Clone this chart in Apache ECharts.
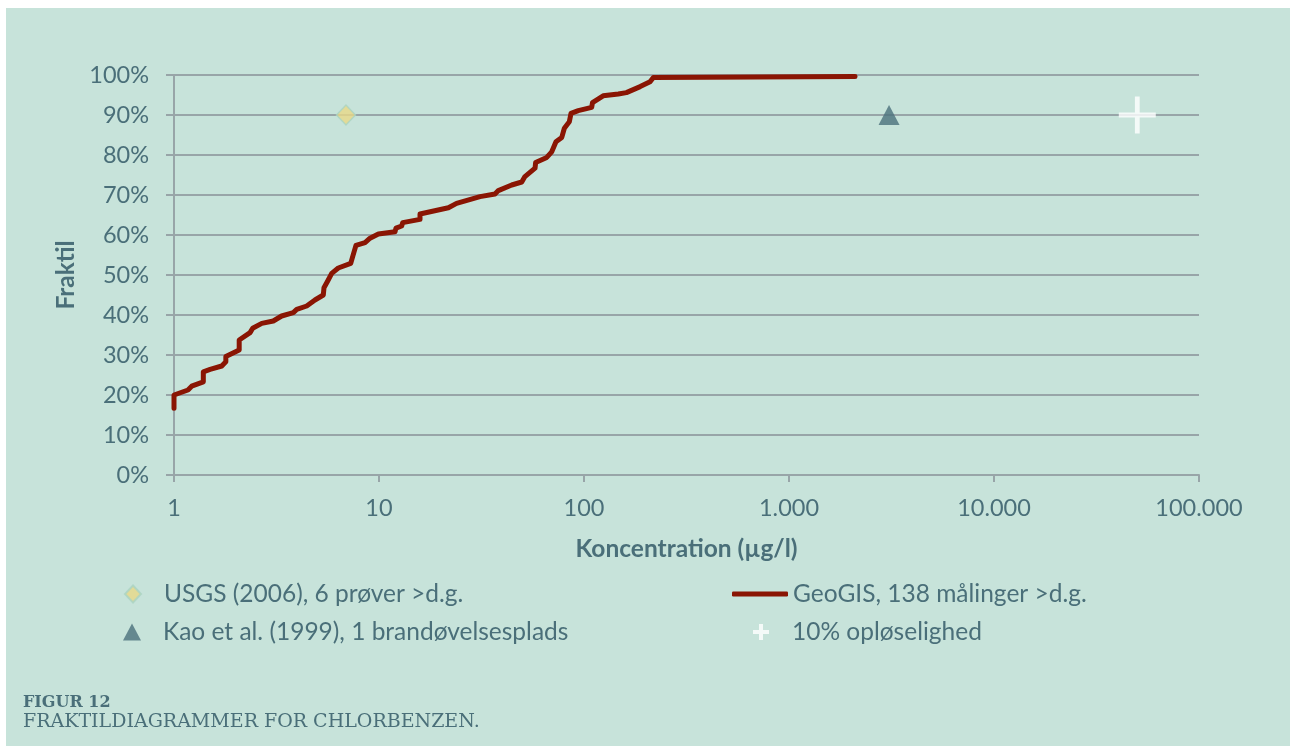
<!DOCTYPE html>
<html>
<head>
<meta charset="utf-8">
<script src="https://cdn.jsdelivr.net/npm/echarts@6/dist/echarts.min.js"></script>
<style>
  html, body { margin: 0; padding: 0; background: #ffffff; }
  #chart { position: absolute; left: 6px; top: 8px; width: 1284px; height: 738px; }
</style>
</head>
<body>
<div id="chart"></div>
<script>
// GeoGIS fractile curve (concentration in µg/l, fractile in %)
var geoConc = [1, 1, 1.17, 1.22, 1.39, 1.39, 1.5, 1.71, 1.79, 1.79, 2.08, 2.08, 2.35, 2.42, 2.68, 3.05,
  3.35, 3.82, 3.97, 4.44, 4.87, 5.35, 5.39, 5.62, 5.88, 6.33, 7.28, 7.44, 7.72, 8.55, 9.04, 9.93,
  11.97, 12.1, 12.9, 13.05, 15.85, 15.85, 21.8, 23.9, 31.1, 36.8, 38.2, 44.4, 49.7, 51.5, 57.7, 58.1,
  65.8, 69.6, 73, 77.9, 80.2, 84.8, 86.4, 93.8, 109, 110, 124, 147, 161, 188, 210, 218, 2100];
var geoFrac = [16.7, 20, 21.25, 22.2, 23.3, 25.8, 26.4, 27.25, 28.3, 29.6, 31.25, 33.75, 35.6, 36.7, 37.9, 38.5,
  39.75, 40.6, 41.4, 42.25, 43.75, 45, 46.8, 48.5, 50.4, 51.75, 52.9, 54.6, 57.4, 58.1, 59.2, 60.25,
  60.8, 61.7, 62.25, 63.1, 63.9, 65.25, 66.8, 67.9, 69.6, 70.25, 71.1, 72.5, 73.25, 74.6, 76.7, 78.1,
  79.4, 80.8, 83.3, 84.4, 86.7, 88.3, 90.4, 91.1, 91.9, 93.1, 94.8, 95.25, 95.6, 97.1, 98.3, 99.4, 99.6];

// single 90% fractile points
var usgsPoint = [6.9, 90];
var kaoPoint = [3076, 90];
var solubilityPoint = [50000, 90];

var seriesNames = ["USGS (2006), 6 prøver >d.g.", "GeoGIS, 138 målinger >d.g.",
  "Kao et al. (1999), 1 brandøvelsesplads", "10% opløselighed"];

var teal = "#4a6f79";
var gridGray = "#98a5a8";
var plusPath = "path://M8.7,0H11.3V8.7H20V11.3H11.3V20H8.7V11.3H0V8.7H8.7Z";
var plusPathThick = "path://M7.5,0H12.5V7.5H20V12.5H12.5V20H7.5V12.5H0V7.5H7.5Z";

function dkNumber(v) {
  return String(Math.round(v)).replace(/\B(?=(\d{3})+(?!\d))/g, ".");
}

var geoData = [];
geoConc.forEach(function (c, i) {
  geoData.push([c, geoFrac[i]]);
});

var legendText = { color: teal, fontFamily: "Lato", fontSize: 24.5, lineHeight: 28 };
function legendBox(name, icon, left, top, w, h, pad) {
  return {
    data: [{ name: name, icon: icon }],
    left: left,
    top: top,
    padding: 0,
    orient: "horizontal",
    itemWidth: w,
    itemHeight: h,
    selectedMode: false,
    textStyle: Object.assign({ padding: [0, 0, 0, pad] }, legendText),
  };
}

var myChart = echarts.init(document.getElementById("chart"));
myChart.setOption({
  backgroundColor: "#c7e3da",
  animation: false,
  title: [
    {
      text: "FIGUR 12",
      left: 17,
      top: 687,
      padding: 0,
      textStyle: { fontFamily: "DejaVu Serif", fontWeight: "bold", fontSize: 16, color: teal },
    },
    {
      text: "FRAKTILDIAGRAMMER FOR CHLORBENZEN.",
      left: 17,
      top: 705,
      padding: 0,
      textStyle: { fontFamily: "DejaVu Serif", fontWeight: "normal", fontSize: 19, color: teal },
    },
  ],
  legend: [
    legendBox(seriesNames[0], "diamond", 118, 572, 16, 17, 18),
    legendBox(seriesNames[1], "roundRect", 726, 572, 56, 5, 0),
    legendBox(seriesNames[2], "triangle", 117, 610, 18, 17, 17),
    legendBox(seriesNames[3], plusPathThick, 747, 610, 16, 16, 18),
  ],
  grid: { left: 168, top: 67, right: 91, bottom: 271 },
  xAxis: {
    type: "log",
    logBase: 10,
    min: 1,
    max: 100000,
    name: "Koncentration (µg/l)",
    nameLocation: "middle",
    nameGap: 62,
    nameTextStyle: { color: teal, fontFamily: "Lato", fontSize: 24.5, fontWeight: "bold" },
    axisLine: { lineStyle: { color: gridGray, width: 2 } },
    axisTick: { show: true, length: 7, lineStyle: { color: gridGray, width: 2 } },
    axisLabel: {
      color: teal,
      fontFamily: "Lato",
      fontSize: 23.5,
      margin: 21,
      formatter: dkNumber,
    },
    splitLine: { show: false },
    minorTick: { show: false },
  },
  yAxis: {
    type: "value",
    min: 0,
    max: 100,
    interval: 10,
    name: "Fraktil",
    nameLocation: "middle",
    nameGap: 95,
    nameRotate: 90,
    nameTextStyle: { color: teal, fontFamily: "Lato", fontSize: 24.5, fontWeight: "bold" },
    axisLine: { show: true, lineStyle: { color: gridGray, width: 2 } },
    axisTick: { show: true, length: 8, lineStyle: { color: gridGray, width: 2 } },
    axisLabel: {
      color: teal,
      fontFamily: "Lato",
      fontSize: 23.5,
      margin: 25,
      formatter: "{value}%",
    },
    splitLine: { show: true, lineStyle: { color: gridGray, width: 2 } },
  },
  series: [
    {
      name: seriesNames[0],
      type: "scatter",
      symbol: "diamond",
      symbolSize: [19, 20],
      itemStyle: { color: "#e8d887", borderColor: "#a9d3c3", borderWidth: 1.5 },
      data: [usgsPoint],
      z: 3,
    },
    {
      name: seriesNames[1],
      type: "line",
      showSymbol: false,
      symbol: "none",
      smooth: false,
      lineStyle: { color: "#8a1503", width: 5, cap: "round", join: "round" },
      itemStyle: { color: "#8a1503" },
      data: geoData,
      z: 2,
    },
    {
      name: seriesNames[2],
      type: "scatter",
      symbol: "triangle",
      symbolSize: [21, 20],
      itemStyle: { color: "#4b717c" },
      data: [kaoPoint],
      z: 3,
    },
    {
      name: seriesNames[3],
      type: "scatter",
      symbol: plusPath,
      symbolSize: 37,
      itemStyle: { color: "#ffffff" },
      data: [solubilityPoint],
      z: 3,
    },
  ],
});
</script>
</body>
</html>
